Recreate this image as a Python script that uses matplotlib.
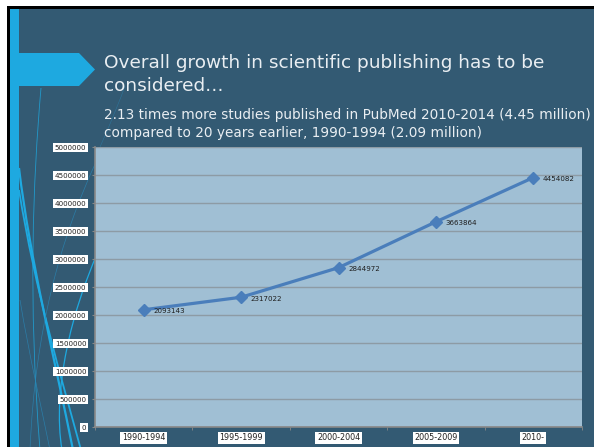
import numpy as np
import matplotlib
matplotlib.use("Agg")
import matplotlib.pyplot as plt
from matplotlib.patches import Rectangle, Polygon, PathPatch
from matplotlib.path import Path

# PubMed publication counts per five-year period
periods = ["1990-1994", "1995-1999", "2000-2004", "2005-2009", "2010-"]
studies = [2093143, 2317022, 2844972, 3663864, 4454082]
y_ticks = [0, 500000, 1000000, 1500000, 2000000, 2500000,
           3000000, 3500000, 4000000, 4500000, 5000000]

title_lines = ["Overall growth in scientific publishing has to be",
               "considered\u2026"]
subtitle_lines = ["2.13 times more studies published in PubMed 2010-2014 (4.45 million)",
                  "compared to 20 years earlier, 1990-1994 (2.09 million)"]

SLATE = "#335a73"
CYAN = "#1ea9e0"
PLOT_BG = "#a0bfd4"
LINE = "#4a7ebb"

W, H = 594, 447
fig = plt.figure(figsize=(W / 100, H / 100), dpi=100, facecolor=SLATE)

# slide background drawn in pixel coordinates
bg = fig.add_axes([0, 0, 1, 1], zorder=0)
bg.set_xlim(0, W)
bg.set_ylim(H, 0)
bg.axis("off")
# white margin and black frame along the top and left edges
bg.add_patch(Rectangle((-5, -5), W + 10, 11, facecolor="white", edgecolor="none"))
bg.add_patch(Rectangle((-5, -5), 12, H + 10, facecolor="white", edgecolor="none"))
bg.add_patch(Rectangle((7, 6), W + 10, 3, facecolor="black", edgecolor="none"))
bg.add_patch(Rectangle((7, 6), 3, H + 10, facecolor="black", edgecolor="none"))
bg.add_patch(Rectangle((10, 9), 9, H + 10, facecolor=CYAN, edgecolor="none"))
bg.add_patch(Polygon([(19, 53), (79, 53), (95, 69.5), (79, 86), (19, 86)],
                     closed=True, facecolor=CYAN, edgecolor="none"))


def curve(pts, lw, color, alpha=1.0):
    codes = [Path.MOVETO] + [Path.CURVE4] * (len(pts) - 1)
    bg.add_patch(PathPatch(Path(pts, codes), facecolor="none", edgecolor=color,
                           lw=lw, alpha=alpha))


# decorative swoosh lines on the left edge
curve([(19, 168), (30, 260), (55, 360), (73, 450)], 1.6, CYAN)
curve([(19, 190), (35, 290), (62, 380), (81, 450)], 1.3, CYAN)
curve([(41, 88), (33, 180), (28, 300), (40, 450)], 0.6, CYAN, 0.8)
curve([(98, 252), (72, 310), (52, 390), (62, 450)], 0.9, CYAN)
curve([(96, 162), (60, 240), (35, 330), (30, 450)], 0.5, "#2a86b5", 0.8)
curve([(20, 300), (30, 360), (42, 410), (50, 450)], 0.5, "#2a86b5", 0.8)
curve([(100, 147), (112, 120), (120, 100), (125, 86)], 0.4, "#2a86b5", 0.6)

# slide headings
title_kw = dict(color="#e9eef2", family="DejaVu Sans", fontsize=13.3,
                va="baseline", ha="left")
bg.text(104, 68, title_lines[0], **title_kw)
bg.text(104, 91, title_lines[1], **title_kw)
sub_kw = dict(color="#e9eef2", family="DejaVu Sans", fontsize=9.8,
              va="baseline", ha="left")
bg.text(104, 119, subtitle_lines[0], **sub_kw)
bg.text(104, 137, subtitle_lines[1], **sub_kw)

# chart
x0, x1, yt, yb = 95, 582, 147, 427
ax = fig.add_axes([x0 / W, (H - yb) / H, (x1 - x0) / W, (yb - yt) / H], zorder=2)
ax.set_facecolor(PLOT_BG)
x = np.arange(len(periods))
ax.set_xlim(-0.5, len(periods) - 0.5)
ax.set_ylim(0, 5000000)
ax.set_yticks(y_ticks)
ax.set_yticklabels([str(v) for v in y_ticks])
ax.set_xticks(x)
ax.set_xticklabels(periods)
ax.set_xticks(np.arange(len(periods) + 1) - 0.5, minor=True)
ax.yaxis.grid(True, color="#8d9ba5", lw=1)
ax.set_axisbelow(True)
for s in ("top", "right"):
    ax.spines[s].set_visible(False)
for s in ("left", "bottom"):
    ax.spines[s].set_color("#888888")
    ax.spines[s].set_linewidth(1.2)

ax.tick_params(axis="y", length=2.2, color="#888888", pad=4,
               labelsize=5.1, labelcolor="#222222")
ax.tick_params(axis="x", which="major", length=0, pad=4.5,
               labelsize=5.8, labelcolor="#222222")
ax.tick_params(axis="x", which="minor", length=2.2, color="#888888")
box = dict(facecolor="white", edgecolor="none", pad=1.2)
for lab in ax.get_yticklabels() + ax.get_xticklabels():
    lab.set_bbox(box)

ax.plot(x, studies, color=LINE, lw=2.3, marker="D", ms=6, zorder=3,
        clip_on=False)
for xi, v in zip(x, studies):
    ax.annotate(str(v), (xi, v), xytext=(7, -1), textcoords="offset points",
                ha="left", va="center", fontsize=5.1, color="#1e1e1e")

fig.savefig("out.png", dpi=100, facecolor=fig.get_facecolor())
